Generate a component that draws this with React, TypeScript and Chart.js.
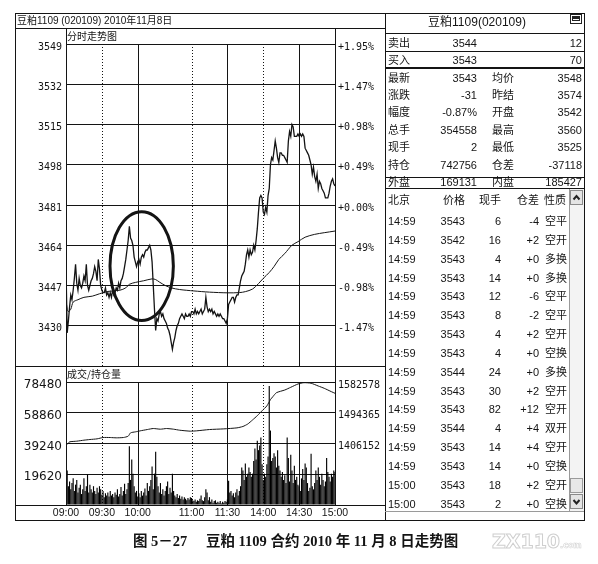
import React, { useEffect, useRef } from "react";
import { Chart, registerables } from "chart.js";

Chart.register(...registerables);

// ---- time axis (minutes after 09:00, trading sessions only) ----
const MINUTE_MAX = 225;
const timeTickMinutes = [0, 30, 60, 105, 135, 165, 195, 225];
const timeTickLabels = ["09:00", "09:30", "10:00", "11:00", "11:30", "14:00", "14:30", "15:00"];
const solidGridMinutes = [60, 135, 195];
const dottedGridMinutes = [30, 105, 165];

// ---- price panel ----
const priceMin = 3413;
const priceMax = 3549;
const priceTicks = [3413, 3430, 3447, 3464, 3481, 3498, 3515, 3532, 3549];
const priceTickLabels = ["", "3430", "3447", "3464", "3481", "3498", "3515", "3532", "3549"];
const percentLabels = ["", "-1.47%", "-0.98%", "-0.49%", "+0.00%", "+0.49%", "+0.98%", "+1.47%", "+1.95%"];

// one price per minute, 09:00 .. 15:00
const priceValues = [
  3455, 3427, 3432, 3438, 3443, 3441, 3445, 3450, 3456, 3448,
  3445, 3450, 3447, 3446, 3448, 3451, 3449, 3456, 3447, 3445,
  3447, 3449, 3450, 3452, 3455, 3453, 3449, 3458, 3454, 3447,
  3445, 3444, 3444, 3446, 3443, 3444, 3442, 3444, 3442, 3445,
  3443, 3444, 3446, 3445, 3448, 3446, 3449, 3450, 3452, 3455,
  3458, 3462, 3466, 3472, 3467, 3466, 3464, 3459, 3457, 3455,
  3457, 3458, 3456, 3459, 3460, 3459, 3461, 3462, 3462, 3463,
  3464, 3462, 3457, 3447, 3437, 3428, 3433, 3432, 3435, 3436,
  3434, 3435, 3433, 3432, 3431, 3429, 3428, 3426, 3423, 3420,
  3423, 3425, 3428, 3430, 3431, 3433, 3434, 3435, 3434, 3433,
  3435, 3434, 3434, 3435, 3434, 3436, 3436, 3435, 3437, 3435,
  3436, 3435, 3436, 3437, 3435, 3436, 3437, 3442, 3438, 3436,
  3437, 3436, 3437, 3435, 3436, 3435, 3434, 3435, 3434, 3435,
  3434, 3433, 3433, 3432, 3431, 3433, 3439, 3440, 3441, 3442,
  3442, 3440, 3442, 3443, 3443, 3446, 3449, 3451, 3452, 3453,
  3456, 3460, 3462, 3459, 3462, 3460, 3461, 3464, 3462, 3466,
  3471, 3478, 3484, 3485, 3484, 3478, 3477, 3480, 3478, 3485,
  3488, 3498, 3501, 3500, 3504, 3508, 3505, 3501, 3499, 3503,
  3503, 3502, 3502, 3501, 3500, 3499, 3508, 3512, 3510, 3515,
  3514, 3510, 3510, 3510, 3511, 3510, 3511, 3510, 3511, 3510,
  3505, 3504, 3503, 3502, 3500, 3498, 3494, 3497, 3493, 3491,
  3494, 3488, 3491, 3490, 3488, 3487, 3486, 3484, 3484, 3484,
  3486, 3489, 3491, 3492, 3490, 3489,
];

// running average price
const avgMinutes = [0, 1, 2, 4, 6, 10, 15, 22, 28, 35, 45, 50, 53, 58, 65, 72, 75, 78, 83, 88, 95, 107, 120, 135, 145, 150, 156, 161, 165, 170, 174, 178, 183, 189, 194, 200, 208, 216, 225];
const avgValues = [3441, 3437, 3436, 3437, 3440, 3441, 3442, 3442.5, 3443.5, 3444.5, 3445, 3446, 3447.5, 3448.3, 3449, 3449.8, 3449.5, 3448.5, 3447, 3446, 3445.3, 3444.7, 3444.2, 3443.9, 3444, 3444.4, 3445.5, 3447.8, 3450, 3452.5, 3455, 3458, 3460.5, 3464, 3465.5, 3467.4, 3468.6, 3469.3, 3470];

// circled area in the morning session
const highlightMinute = 63.3;
const highlightPrice = 3455.2;
const highlightMinuteRadius = 26.5;
const highlightPriceRadius = 23;

// ---- volume / open interest panel ----
const volumeMax = 78480;
const volumeTicks = [0, 19620, 39240, 58860, 78480];
const openInterestMin = 1229726;
const openInterestMax = 1582578;
const openInterestTicks = [1406152, 1494365, 1582578];

const volumeValues = [
  31800, 22000, 12000, 15000, 10000, 14000, 17000, 9000, 13000, 16000,
  8000, 11000, 13000, 7000, 10000, 17000, 9000, 12000, 19500, 8000,
  13000, 10000, 8000, 12000, 9000, 7000, 11000, 8000, 12000, 10000,
  6500, 9000, 5000, 7500, 6000, 8000, 5500, 9000, 6000, 7000,
  5000, 8000, 6500, 10000, 5500, 7000, 11500, 6000, 9000, 13500,
  7000, 10000, 14000, 37500, 16000, 29000, 20000, 12000, 8000, 9000,
  5500, 7500, 5000, 9000, 6000, 8000, 10500, 6000, 14000, 9000,
  12000, 16000, 24500, 10000, 20000, 34000, 18000, 12000, 8000, 14000,
  7000, 10000, 6000, 9000, 12000, 15000, 7000, 11000, 8000, 20000,
  9000, 6000, 5000, 7000, 4500, 6000, 4000, 5500, 3500, 5000,
  4000, 3000, 4500, 3500, 5000, 4500, 3000, 2500, 3500, 2000,
  3000, 2500, 4000, 6000, 3000, 2500, 5000, 10000, 8000, 3000,
  5000, 2000, 3500, 1500, 2500, 3000, 1500, 2000, 1500, 2500,
  1000, 2000, 1500, 2500, 2000, 3500, 15500, 8000, 9000, 6000,
  7500, 5000, 8000, 10000, 6000, 9000, 12000, 24000, 22000, 16000,
  26500, 18000, 20000, 24000, 21000, 18000, 20000, 28000, 36000, 29000,
  41000, 35000, 38000, 43000, 26000, 16000, 20000, 18000, 26000, 31000,
  76000, 47500, 28000, 30000, 33000, 31000, 24000, 35000, 25000, 22000,
  18000, 21000, 16000, 19000, 14000, 43000, 30000, 15000, 32000, 22000,
  14000, 25000, 16000, 18000, 13000, 12000, 9000, 17000, 23000, 16000,
  26500, 24000, 14000, 9000, 11000, 32700, 12000, 10000, 14000, 22000,
  16000, 24000, 18000, 13000, 20000, 16000, 12000, 15000, 30000, 21000,
  18000, 15000, 20000, 18000, 22000, 21000,
];

const oiMinutes = [0, 1, 3, 9, 15, 20, 26, 31, 37, 42, 48, 52, 54, 58, 62, 68, 73, 79, 84, 90, 95, 104, 109, 120, 132, 143, 148, 152, 156, 160, 164, 168, 171, 173, 176, 183, 188, 194, 199, 205, 211, 216, 222, 225];
const oiValues = [1412000, 1404300, 1410900, 1412800, 1415700, 1417600, 1419500, 1423300, 1423300, 1422400, 1423300, 1427100, 1436700, 1439500, 1442400, 1446200, 1449100, 1447200, 1449100, 1447200, 1444300, 1441500, 1442400, 1446200, 1448100, 1451000, 1455000, 1462000, 1473600, 1486000, 1500000, 1514000, 1532000, 1540400, 1551900, 1559600, 1567400, 1576800, 1580600, 1579000, 1571100, 1564500, 1554800, 1550200];

// ---- quote board ----
const boardTitle = "豆粕1109(020109)";
const bidAskRows = [
  ["卖出", "3544", "12"],
  ["买入", "3543", "70"],
];
const quoteRows = [
  ["最新", "3543", "均价", "3548"],
  ["涨跌", "-31", "昨结", "3574"],
  ["幅度", "-0.87%", "开盘", "3542"],
  ["总手", "354558", "最高", "3560"],
  ["现手", "2", "最低", "3525"],
  ["持仓", "742756", "仓差", "-37118"],
];
const outerInnerRow = ["外盘", "169131", "内盘", "185427"];
const tradeHeader = ["北京", "价格", "现手", "仓差", "性质"];
const tradeRows = [
  ["14:59", "3543", "6", "-4", "空平"],
  ["14:59", "3542", "16", "+2", "空开"],
  ["14:59", "3543", "4", "+0", "多换"],
  ["14:59", "3543", "14", "+0", "多换"],
  ["14:59", "3543", "12", "-6", "空平"],
  ["14:59", "3543", "8", "-2", "空平"],
  ["14:59", "3543", "4", "+2", "空开"],
  ["14:59", "3543", "4", "+0", "空换"],
  ["14:59", "3544", "24", "+0", "多换"],
  ["14:59", "3543", "30", "+2", "空开"],
  ["14:59", "3543", "82", "+12", "空开"],
  ["14:59", "3544", "4", "+4", "双开"],
  ["14:59", "3543", "14", "+4", "空开"],
  ["14:59", "3543", "14", "+0", "空换"],
  ["15:00", "3543", "18", "+2", "空开"],
  ["15:00", "3543", "2", "+0", "空换"],
];

const chartTitle = "豆粕1109 (020109) 2010年11月8日";
const captionFigure = "图 5－27";
const captionText = "豆粕 1109 合约 2010 年 11 月 8 日走势图";

// ---- styling ----
const INK = "#141414";
const MONO = "DejaVu Sans Mono";
const TABLE_FONT = '"Liberation Sans", "Noto Sans CJK SC", sans-serif';
const CJK_FONT = '"Noto Sans CJK SC", sans-serif';

const sessionGridPlugin = {
  id: "sessionGrid",
  beforeDatasetsDraw(chart: any) {
    const { ctx, chartArea, scales } = chart;
    const xs = scales.x;
    ctx.save();
    ctx.strokeStyle = INK;
    ctx.lineWidth = 1;
    const draw = (m: number) => {
      const px = Math.round(xs.getPixelForValue(m)) + 0.5;
      ctx.beginPath();
      ctx.moveTo(px, chartArea.top);
      ctx.lineTo(px, chartArea.bottom);
      ctx.stroke();
    };
    solidGridMinutes.forEach(draw);
    ctx.setLineDash([1, 2]);
    dottedGridMinutes.forEach(draw);
    ctx.restore();
  },
};

const highlightPlugin = {
  id: "highlightRing",
  afterDatasetsDraw(chart: any) {
    const { ctx, scales } = chart;
    const xs = scales.x;
    const ys = scales.y;
    const cx = xs.getPixelForValue(highlightMinute);
    const cy = ys.getPixelForValue(highlightPrice);
    const rx = Math.abs(xs.getPixelForValue(highlightMinute + highlightMinuteRadius) - cx);
    const ry = Math.abs(ys.getPixelForValue(highlightPrice + highlightPriceRadius) - cy);
    ctx.save();
    ctx.strokeStyle = INK;
    ctx.lineWidth = 3;
    ctx.beginPath();
    ctx.ellipse(cx, cy, rx, ry, 0, 0, Math.PI * 2);
    ctx.stroke();
    ctx.restore();
  },
};

const tickFont = { family: MONO, size: 10 };

// fixed axis widths, no extra room reserved for half-labels at the ends
const fixWidth = (w: number) => (s: any) => {
  s.width = w;
  s.paddingTop = 0;
  s.paddingBottom = 0;
};

function priceConfig(): any {
  return {
    type: "line",
    data: {
      datasets: [
        {
          data: priceValues.map((v, i) => ({ x: i, y: v })),
          borderColor: INK,
          borderWidth: 1.3,
          pointRadius: 0,
          tension: 0,
        },
        {
          data: avgMinutes.map((m, i) => ({ x: m, y: avgValues[i] })),
          borderColor: INK,
          borderWidth: 1,
          pointRadius: 0,
          tension: 0.3,
        },
      ],
    },
    options: {
      animation: false,
      responsive: false,
      devicePixelRatio: 1,
      layout: { padding: { top: 16, bottom: 1, left: 0, right: 0 } },
      plugins: { legend: { display: false }, tooltip: { enabled: false } },
      scales: {
        x: { type: "linear", min: 0, max: MINUTE_MAX, display: false },
        y: {
          position: "left",
          min: priceMin,
          max: priceMax,
          afterFit: fixWidth(51),
          afterBuildTicks: (s: any) => { s.ticks = priceTicks.map((v) => ({ value: v })); },
          ticks: {
            callback: (v: number) => priceTickLabels[priceTicks.indexOf(v)] ?? "",
            font: tickFont,
            color: INK,
            padding: 4,
            labelOffset: 3,
          },
          grid: { color: INK, lineWidth: 1, drawTicks: false },
          border: { display: true, color: INK },
        },
        yPct: {
          position: "right",
          min: priceMin,
          max: priceMax,
          afterFit: fixWidth(50),
          afterBuildTicks: (s: any) => { s.ticks = priceTicks.map((v) => ({ value: v })); },
          ticks: {
            callback: (v: number) => percentLabels[priceTicks.indexOf(v)] ?? "",
            font: tickFont,
            color: INK,
            padding: 3,
            labelOffset: 3,
          },
          grid: { drawOnChartArea: false, drawTicks: false },
          border: { display: true, color: INK },
        },
      },
    },
    plugins: [sessionGridPlugin, highlightPlugin],
  };
}

function volumeConfig(): any {
  return {
    type: "bar",
    data: {
      datasets: [
        {
          type: "line",
          data: oiMinutes.map((m, i) => ({ x: m, y: oiValues[i] })),
          yAxisID: "yOi",
          borderColor: INK,
          borderWidth: 1,
          pointRadius: 0,
          tension: 0.2,
          order: 1,
        },
        {
          type: "bar",
          data: volumeValues.map((v, i) => ({ x: i, y: v })),
          yAxisID: "y",
          backgroundColor: "#000",
          barPercentage: 1,
          categoryPercentage: 0.95,
          order: 2,
        },
      ],
    },
    options: {
      animation: false,
      responsive: false,
      devicePixelRatio: 1,
      layout: { padding: { top: 16, bottom: 0, left: 0, right: 0 } },
      plugins: { legend: { display: false }, tooltip: { enabled: false } },
      scales: {
        x: {
          type: "linear",
          min: 0,
          max: MINUTE_MAX,
          offset: false,
          afterFit: (s: any) => {
            s.height = 15;
            s.paddingLeft = 0;
            s.paddingRight = 0;
          },
          afterBuildTicks: (s: any) => { s.ticks = timeTickMinutes.map((v) => ({ value: v })); },
          ticks: {
            callback: (v: number) => timeTickLabels[timeTickMinutes.indexOf(v)] ?? "",
            autoSkip: false,
            maxRotation: 0,
            font: { family: "Liberation Sans", size: 10.5 },
            color: INK,
            padding: 2,
          },
          grid: { display: false, drawTicks: false },
          border: { display: false },
        },
        y: {
          position: "left",
          min: 0,
          max: volumeMax,
          afterFit: fixWidth(51),
          afterBuildTicks: (s: any) => { s.ticks = volumeTicks.map((v) => ({ value: v })); },
          ticks: {
            callback: (v: number) => (v === 0 ? "" : String(v)),
            font: { family: "DejaVu Sans", size: 12 },
            color: INK,
            padding: 4,
            labelOffset: 3,
          },
          grid: { color: INK, lineWidth: 1, drawTicks: false },
          border: { display: true, color: INK },
        },
        yOi: {
          position: "right",
          min: openInterestMin,
          max: openInterestMax,
          afterFit: fixWidth(50),
          afterBuildTicks: (s: any) => { s.ticks = openInterestTicks.map((v) => ({ value: v })); },
          ticks: {
            callback: (v: number) => String(v),
            font: tickFont,
            color: INK,
            padding: 3,
            labelOffset: 3,
          },
          grid: { drawOnChartArea: false, drawTicks: false },
          border: { display: true, color: INK },
        },
      },
    },
    plugins: [sessionGridPlugin],
  };
}

type TxtProps = {
  x: number;
  y: number;
  children: React.ReactNode;
  align?: "left" | "right" | "center";
  size?: number;
  family?: string;
  weight?: number;
  color?: string;
};

function Txt({ x, y, children, align = "left", size = 11, family = TABLE_FONT, weight = 400, color = INK }: TxtProps) {
  const w = 220;
  const left = align === "left" ? x : align === "right" ? x - w : x - w / 2;
  return (
    <div
      style={{
        position: "absolute",
        left,
        top: y - 10,
        width: w,
        height: 20,
        lineHeight: "20px",
        fontSize: size,
        fontFamily: family,
        fontWeight: weight,
        color,
        textAlign: align,
        whiteSpace: "pre",
      }}
    >
      {children}
    </div>
  );
}

function HLine({ x1, x2, y, t = 1, color = INK }: { x1: number; x2: number; y: number; t?: number; color?: string }) {
  return <div style={{ position: "absolute", left: x1, top: y, width: x2 - x1, height: t, background: color }} />;
}

function VLine({ x, y1, y2, t = 1, color = INK }: { x: number; y1: number; y2: number; t?: number; color?: string }) {
  return <div style={{ position: "absolute", left: x, top: y1, width: t, height: y2 - y1, background: color }} />;
}

function ScrollButton({ top, up }: { top: number; up: boolean }) {
  return (
    <div
      style={{
        position: "absolute",
        left: 570,
        top,
        width: 13,
        height: 15,
        boxSizing: "border-box",
        border: "1px solid #8a8a8a",
        background: "#e4e4e4",
      }}
    >
      <svg width="11" height="13" style={{ position: "absolute", left: 0, top: 0 }}>
        <polyline
          points={up ? "2.5,8.5 5.5,5 8.5,8.5" : "2.5,5 5.5,8.5 8.5,5"}
          fill="none"
          stroke="#222"
          strokeWidth="2"
        />
      </svg>
    </div>
  );
}

export default function App() {
  const priceRef = useRef<HTMLCanvasElement>(null);
  const volumeRef = useRef<HTMLCanvasElement>(null);

  useEffect(() => {
    const priceChart = new Chart(priceRef.current as HTMLCanvasElement, priceConfig());
    const volumeChart = new Chart(volumeRef.current as HTMLCanvasElement, volumeConfig());
    return () => {
      priceChart.destroy();
      volumeChart.destroy();
    };
  }, []);

  const quoteY = (k: number) => 77.5 + k * 17.4;
  const tradeY = (k: number) => 221 + k * 18.84;

  return (
    <div
      style={{
        position: "absolute",
        left: 0,
        top: 0,
        width: 598,
        height: 564,
        background: "#fff",
        overflow: "hidden",
        fontFamily: TABLE_FONT,
      }}
    >
      <canvas
        ref={priceRef}
        width={370}
        height={339}
        style={{ position: "absolute", left: 15, top: 28, width: 370, height: 339 }}
      />
      <canvas
        ref={volumeRef}
        width={370}
        height={154}
        style={{ position: "absolute", left: 15, top: 366, width: 370, height: 154 }}
      />

      {/* outer frame and panel dividers */}
      <HLine x1={15} x2={585} y={13} />
      <HLine x1={15} x2={585} y={520} />
      <VLine x={15} y1={13} y2={521} />
      <VLine x={584} y1={13} y2={521} />
      <VLine x={385} y1={13} y2={521} />
      <HLine x1={15} x2={385} y={28} />
      <VLine x={66} y1={28} y2={505} />
      <VLine x={335} y1={28} y2={505} />
      <HLine x1={15} x2={385} y={366} />
      <HLine x1={15} x2={385} y={505} />

      <Txt x={17} y={20.5} size={10}>{chartTitle}</Txt>
      <Txt x={67} y={36} size={10} family={CJK_FONT}>分时走势图</Txt>
      <Txt x={67} y={374} size={10} family={CJK_FONT}>成交/持仓量</Txt>

      {/* quote board */}
      <Txt x={477} y={22} size={12} align="center">{boardTitle}</Txt>
      <div
        style={{
          position: "absolute",
          left: 570,
          top: 14,
          width: 12,
          height: 10,
          boxSizing: "border-box",
          border: "1px solid #222",
          background: "#fff",
        }}
      >
        <div style={{ position: "absolute", left: 1, top: 1, width: 8, height: 2, background: "#222" }} />
        <div style={{ position: "absolute", left: 1, top: 3, width: 8, height: 3, border: "1px solid #222", boxSizing: "border-box" }} />
      </div>
      <HLine x1={385} x2={584} y={33} />
      <HLine x1={385} x2={584} y={51} />
      <HLine x1={385} x2={584} y={67} t={2} />
      <HLine x1={385} x2={584} y={177} />
      <HLine x1={385} x2={584} y={188} />

      {bidAskRows.map((r, k) => (
        <React.Fragment key={r[0]}>
          <Txt x={388} y={43 + k * 17}>{r[0]}</Txt>
          <Txt x={477} y={43 + k * 17} align="right">{r[1]}</Txt>
          <Txt x={582} y={43 + k * 17} align="right">{r[2]}</Txt>
        </React.Fragment>
      ))}
      {quoteRows.map((r, k) => (
        <React.Fragment key={r[0]}>
          <Txt x={388} y={quoteY(k)}>{r[0]}</Txt>
          <Txt x={477} y={quoteY(k)} align="right">{r[1]}</Txt>
          <Txt x={492} y={quoteY(k)}>{r[2]}</Txt>
          <Txt x={582} y={quoteY(k)} align="right">{r[3]}</Txt>
        </React.Fragment>
      ))}
      <Txt x={388} y={182}>{outerInnerRow[0]}</Txt>
      <Txt x={477} y={182} align="right">{outerInnerRow[1]}</Txt>
      <Txt x={492} y={182}>{outerInnerRow[2]}</Txt>
      <Txt x={582} y={182} align="right">{outerInnerRow[3]}</Txt>

      {/* trade ticks */}
      <Txt x={388} y={200}>{tradeHeader[0]}</Txt>
      <Txt x={465} y={200} align="right">{tradeHeader[1]}</Txt>
      <Txt x={501} y={200} align="right">{tradeHeader[2]}</Txt>
      <Txt x={539} y={200} align="right">{tradeHeader[3]}</Txt>
      <Txt x={544} y={200}>{tradeHeader[4]}</Txt>
      {tradeRows.map((r, k) => (
        <React.Fragment key={k}>
          <Txt x={388} y={tradeY(k)}>{r[0]}</Txt>
          <Txt x={465} y={tradeY(k)} align="right">{r[1]}</Txt>
          <Txt x={501} y={tradeY(k)} align="right">{r[2]}</Txt>
          <Txt x={539} y={tradeY(k)} align="right">{r[3]}</Txt>
          <Txt x={545} y={tradeY(k)}>{r[4]}</Txt>
        </React.Fragment>
      ))}

      {/* scroll bar */}
      <div
        style={{
          position: "absolute",
          left: 569,
          top: 189,
          width: 15,
          height: 322,
          boxSizing: "border-box",
          borderLeft: "1px solid #9a9a9a",
          background: "#f3f3f3",
        }}
      />
      <ScrollButton top={190} up={true} />
      <div
        style={{
          position: "absolute",
          left: 570,
          top: 478,
          width: 13,
          height: 15,
          boxSizing: "border-box",
          border: "1px solid #9a9a9a",
          background: "#e8e8e8",
        }}
      />
      <ScrollButton top={494} up={false} />
      <HLine x1={385} x2={584} y={511} color="#9a9a9a" />

      {/* caption */}
      <Txt x={133} y={541} size={14.5} weight={700} family={'"Liberation Serif", "Noto Sans CJK SC", serif'}>
        {captionFigure}
      </Txt>
      <Txt x={206} y={541} size={14.5} weight={700} family={'"Liberation Serif", "Noto Sans CJK SC", serif'}>
        {captionText}
      </Txt>
      <div
        style={{
          position: "absolute",
          left: 492,
          top: 530,
          fontFamily: '"DejaVu Sans", sans-serif',
          fontWeight: 700,
          fontSize: 19,
          lineHeight: "22px",
          color: "transparent",
          WebkitTextStroke: "1px #cfcfcf",
          whiteSpace: "pre",
        }}
      >
        ZX110
        <span style={{ fontSize: 8, WebkitTextStroke: "0.5px #cfcfcf" }}>.com</span>
      </div>
    </div>
  );
}
